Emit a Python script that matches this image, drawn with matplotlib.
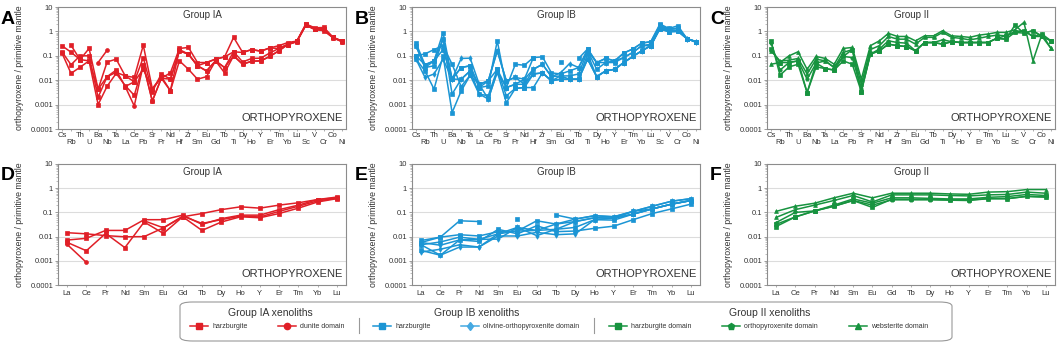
import numpy as np
import matplotlib.pyplot as plt
from matplotlib.lines import Line2D
from matplotlib.patches import FancyBboxPatch
from matplotlib.ticker import FixedLocator, LogLocator, NullFormatter

plt.rcParams['font.family'] = ['Liberation Sans', 'DejaVu Sans']

nan = np.nan

spider = ['Cs', 'Rb', 'Th', 'U', 'Ba', 'Nb', 'Ta', 'La', 'Ce', 'Pb', 'Sr', 'Pr', 'Nd', 'Hf', 'Zr', 'Sm',
          'Eu', 'Gd', 'Tb', 'Ti', 'Dy', 'Ho', 'Y', 'Er', 'Tm', 'Yb', 'Lu', 'Sc', 'V', 'Cr', 'Co', 'Ni']
ree = ['La', 'Ce', 'Pr', 'Nd', 'Sm', 'Eu', 'Gd', 'Tb', 'Dy', 'Ho', 'Y', 'Er', 'Tm', 'Yb', 'Lu']

# ---- Group IA, trace elements (panel A)
a_harz1 = [0.26, 0.14, 0.07, 0.2, 0.0043, 0.056, 0.073, 0.015, 0.013, 0.27, 0.0045, 0.012, 0.02, 0.2, 0.22, 0.053,
           0.053, 0.073, 0.09, 0.57, 0.137, 0.18, 0.155, 0.21, 0.26, 0.35, 0.4, 2.0, 1.4, 1.45, 0.57, 0.4]
a_harz2 = [0.146, 0.043, 0.1, 0.1, 0.002, 0.014, 0.026, 0.0055, 0.0086, 0.085, 0.0034, 0.018, 0.011, 0.16, 0.117, 0.039,
           0.024, 0.062, 0.033, 0.146, 0.056, 0.078, 0.08, 0.13, 0.2, 0.29, 0.4, 1.9, 1.2, 1.2, 0.57, 0.4]
a_harz3 = [0.13, 0.019, 0.034, 0.062, 0.001, 0.0057, 0.019, 0.006, 0.0024, 0.043, 0.0014, 0.012, 0.0037, 0.062, 0.028, 0.011,
           0.014, 0.062, 0.02, 0.1, 0.045, 0.06, 0.062, 0.094, 0.16, 0.29, 0.38, 1.8, 1.2, 1.06, 0.55, 0.38]
a_harz4 = [nan, 0.27, 0.07, 0.062, 0.0043, 0.014, 0.021, 0.015, 0.0086, 0.028, 0.0045, 0.014, 0.0037, 0.18, 0.117, 0.039,
           0.053, 0.073, 0.09, 0.146, 0.137, 0.18, 0.155, 0.21, 0.2, 0.3, 0.4, 1.95, 1.3, 1.3, 0.57, 0.4]
a_dun = [nan, nan, nan, nan, 0.053, 0.17, nan, 0.0055, 0.00088, 0.043, 0.0014, 0.012, 0.011, 0.16, 0.117, 0.039,
         0.024, 0.062, 0.033, 0.1, 0.045, 0.06, 0.062, 0.094, 0.16, 0.29, 0.38, 1.8, 1.2, 1.1, 0.55, 0.38]

# ---- Group IB, trace elements (panel B)
b_harz1 = [0.33, 0.043, 0.062, 0.9, 0.011, 0.033, 0.039, 0.005, 0.0058, 0.41, 0.005, 0.0068, 0.011, 0.085, 0.09, 0.02,
           0.018, 0.024, 0.033, 0.19, 0.053, 0.078, 0.062, 0.13, 0.19, 0.33, 0.38, 2.0, 1.33, 1.7, 0.5, 0.38]
b_harz2 = [0.26, 0.033, 0.039, 0.5, 0.0027, 0.011, 0.024, 0.0068, 0.0094, 0.16, 0.0094, 0.013, 0.0068, 0.028, 0.045, 0.014,
           0.015, 0.015, 0.018, 0.16, 0.028, 0.053, 0.053, 0.085, 0.137, 0.26, 0.26, 1.25, 0.97, 1.0, 0.5, 0.38]
b_harz3 = [0.1, 0.12, 0.18, 0.26, 0.045, 0.0055, 0.016, 0.0027, 0.0023, 0.028, 0.0023, 0.0046, 0.005, 0.018, 0.02, 0.0094,
           0.011, 0.011, 0.011, 0.12, 0.014, 0.024, 0.028, 0.053, 0.094, 0.16, 0.26, 1.5, 1.1, 1.1, 0.5, 0.38]
b_harz4 = [0.073, 0.024, 0.0043, 0.1, 0.00047, 0.0036, 0.016, 0.0068, 0.0017, 0.022, 0.0012, 0.0046, 0.005, 0.005, 0.02, 0.0094,
           0.011, 0.011, 0.011, 0.073, 0.014, 0.024, 0.028, 0.053, 0.094, 0.16, 0.26, 1.3, 0.97, 1.0, 0.5, 0.36]
b_harz5 = [0.1, 0.043, 0.062, 0.18, 0.011, 0.033, 0.039, 0.005, 0.0094, 0.028, 0.005, 0.045, 0.041, 0.085, nan, nan,
           0.056, nan, 0.078, 0.19, 0.053, 0.078, 0.062, 0.13, 0.19, 0.33, 0.38, 1.8, 1.2, 1.4, 0.5, 0.38]
b_olopx1 = [0.26, 0.033, 0.062, 0.5, 0.011, 0.078, 0.08, 0.0068, 0.0094, 0.16, 0.0094, 0.013, 0.011, 0.028, 0.045, 0.014,
            0.02, 0.048, 0.033, 0.16, 0.053, 0.053, 0.062, 0.085, 0.137, 0.26, 0.3, 1.6, 1.2, 1.3, 0.5, 0.38]
b_olopx2 = [0.073, 0.013, 0.018, 0.073, 0.011, 0.011, 0.024, 0.0027, 0.0017, 0.022, 0.005, 0.0068, 0.0068, 0.018, 0.02, 0.0094,
            0.015, 0.011, 0.011, 0.073, 0.014, 0.024, 0.028, 0.053, 0.094, 0.16, 0.26, 1.4, 1.0, 1.1, 0.5, 0.36]

# ---- Group II, trace elements (panel C)
c_web1 = [0.045, 0.053, 0.1, 0.146, 0.028, 0.094, 0.078, 0.045, 0.2, 0.22, 0.011, 0.26, 0.41, 0.83, 0.62, 0.62,
          0.41, 0.66, 0.66, 1.07, 0.66, 0.62, 0.57, 0.7, 0.78, 0.91, 0.91, 1.17, 2.34, 0.062, 0.78, 0.2]
c_web2 = [0.16, 0.062, 0.066, 0.078, 0.018, 0.073, 0.062, 0.033, 0.137, 0.18, 0.0068, 0.18, 0.26, 0.62, 0.48, 0.48,
          0.3, 0.57, 0.57, 0.91, 0.57, 0.52, 0.45, 0.52, 0.62, 0.7, 0.66, 1.0, 1.07, 0.62, 0.62, 0.2]
c_opx = [0.35, 0.026, 0.053, 0.062, 0.011, 0.05, 0.062, 0.033, 0.094, 0.085, 0.0043, 0.117, 0.19, 0.41, 0.35, 0.33,
         0.16, 0.35, 0.35, 0.45, 0.38, 0.35, 0.35, 0.35, 0.35, 0.52, 0.48, 0.91, 0.85, 1.07, 0.62, 0.41]
c_harz1 = [0.41, 0.016, 0.035, 0.045, 0.0031, 0.035, 0.03, 0.026, 0.062, 0.045, 0.0034, 0.117, 0.16, 0.3, 0.26, 0.24,
           0.16, 0.35, 0.35, 0.3, 0.38, 0.35, 0.35, 0.35, 0.35, 0.52, 0.48, 1.8, 0.85, 1.07, 0.62, 0.41]
c_harz2 = [0.19, 0.053, 0.053, 0.062, 0.0031, 0.05, 0.03, 0.026, 0.094, 0.18, 0.0034, 0.117, 0.16, 0.3, 0.26, 0.24,
           0.16, 0.35, 0.35, 0.3, 0.38, 0.35, 0.35, 0.35, 0.35, 0.52, 0.66, 0.91, 1.07, 0.62, 0.78, 0.41]

# ---- REE (panels D, E, F)
d_harz1 = [0.0145, 0.013, 0.011, 0.0098, 0.010, 0.023, 0.066, 0.09, 0.13, 0.17, 0.15, 0.2, 0.25, 0.34, 0.43]
d_harz2 = [0.0072, 0.0085, 0.018, 0.018, 0.05, 0.05, 0.077, 0.032, 0.055, 0.077, 0.077, 0.13, 0.2, 0.34, 0.4]
d_harz3 = [0.0058, 0.0026, 0.0135, 0.0035, 0.04, 0.0135, 0.066, 0.018, 0.04, 0.066, 0.06, 0.09, 0.15, 0.27, 0.37]
d_dun = [0.0048, 0.00086, nan, nan, 0.045, 0.023, 0.07, 0.035, 0.05, 0.07, 0.065, 0.11, 0.18, 0.3, 0.38]

e_harz1 = [0.0069, 0.0095, 0.045, 0.042, nan, 0.053, nan, 0.078, 0.053, 0.073, 0.066, 0.11, 0.18, 0.29, 0.37]
e_harz2 = [0.0057, 0.0095, 0.012, 0.0106, 0.016, 0.017, 0.045, 0.033, 0.042, 0.06, 0.058, 0.085, 0.14, 0.22, 0.31]
e_harz3 = [0.0046, 0.006, 0.0095, 0.0077, 0.013, 0.024, 0.018, 0.02, 0.024, 0.05, 0.048, 0.085, 0.14, 0.22, 0.31]
e_harz4 = [0.0027, 0.0017, 0.0073, 0.0063, 0.02, 0.013, 0.028, 0.016, 0.017, 0.022, 0.027, 0.05, 0.09, 0.14, 0.22]
e_olopx1 = [0.0023, 0.003, 0.0046, 0.0037, 0.0106, 0.0106, 0.015, 0.012, 0.013, 0.05, 0.058, 0.085, 0.14, 0.22, 0.31]
e_olopx2 = [0.0057, 0.0044, 0.0073, 0.0077, 0.0079, 0.024, 0.011, 0.02, 0.042, 0.06, 0.058, 0.11, 0.18, 0.29, 0.37]
e_olopx3 = [0.0046, 0.0017, 0.0037, 0.0037, 0.013, 0.017, 0.018, 0.033, 0.053, 0.073, 0.066, 0.11, 0.14, 0.22, 0.31]

f_web1 = [0.11, 0.18, 0.24, 0.4, 0.62, 0.4, 0.62, 0.62, 0.62, 0.58, 0.56, 0.69, 0.72, 0.88, 0.88]
f_web2 = [0.062, 0.13, 0.2, 0.31, 0.5, 0.27, 0.53, 0.53, 0.53, 0.5, 0.48, 0.53, 0.55, 0.69, 0.62]
f_opx = [0.038, 0.1, 0.115, 0.18, 0.31, 0.2, 0.33, 0.33, 0.33, 0.32, 0.31, 0.37, 0.37, 0.46, 0.43]
f_harz1 = [0.032, 0.065, 0.115, 0.18, 0.31, 0.16, 0.35, 0.35, 0.35, 0.33, 0.33, 0.37, 0.37, 0.46, 0.43]
f_harz2 = [0.026, 0.065, 0.115, 0.2, 0.36, 0.24, 0.4, 0.4, 0.38, 0.36, 0.36, 0.42, 0.45, 0.55, 0.5]

red = '#e01f27'
blue = '#1b95d4'
lblue = '#45a9e2'
green = '#17933f'

styles = {
    'ia_harz': dict(color=red, marker='s', label='harzburgite'),
    'ia_dun': dict(color=red, marker='o', label='dunite domain'),
    'ib_harz': dict(color=blue, marker='s', label='harzburgite'),
    'ib_olopx': dict(color=lblue, marker='d', label='olivine-orthopyroxenite domain'),
    'ii_harz': dict(color=green, marker='s', label='harzburgite domain'),
    'ii_opx': dict(color=green, marker='p', label='orthopyroxenite domain'),
    'ii_web': dict(color=green, marker='^', label='websterite domain'),
}

panels = [
    ('A', 'Group IA', spider, [(a_harz1, 'ia_harz'), (a_harz2, 'ia_harz'), (a_harz3, 'ia_harz'),
                               (a_harz4, 'ia_harz'), (a_dun, 'ia_dun')]),
    ('B', 'Group IB', spider, [(b_harz1, 'ib_harz'), (b_harz2, 'ib_harz'), (b_harz3, 'ib_harz'), (b_harz4, 'ib_harz'),
                               (b_harz5, 'ib_harz'), (b_olopx1, 'ib_olopx'), (b_olopx2, 'ib_olopx')]),
    ('C', 'Group II', spider, [(c_web1, 'ii_web'), (c_web2, 'ii_web'), (c_opx, 'ii_opx'),
                               (c_harz1, 'ii_harz'), (c_harz2, 'ii_harz')]),
    ('D', 'Group IA', ree, [(d_harz1, 'ia_harz'), (d_harz2, 'ia_harz'), (d_harz3, 'ia_harz'), (d_dun, 'ia_dun')]),
    ('E', 'Group IB', ree, [(e_harz1, 'ib_harz'), (e_harz2, 'ib_harz'), (e_harz3, 'ib_harz'), (e_harz4, 'ib_harz'),
                            (e_olopx1, 'ib_olopx'), (e_olopx2, 'ib_olopx'), (e_olopx3, 'ib_olopx')]),
    ('F', 'Group II', ree, [(f_web1, 'ii_web'), (f_web2, 'ii_web'), (f_opx, 'ii_opx'),
                            (f_harz1, 'ii_harz'), (f_harz2, 'ii_harz')]),
]

W, H = 1059, 343
fig = plt.figure(figsize=(W / 100, H / 100), dpi=100)

lefts = [58, 412, 767]
tops = [7, 164]
bottoms = [129, 285]
aw = 288

frame_col = '#8c8c8c'
text_col = '#333333'

for i, (letter, group, elems, series) in enumerate(panels):
    row, col = divmod(i, 3)
    x0 = lefts[col]
    ax = fig.add_axes([x0 / W, 1 - bottoms[row] / H, aw / W, (bottoms[row] - tops[row]) / H])
    n = len(elems)
    xs = np.arange(n)
    for vals, kind in series:
        st = styles[kind]
        lc = blue if kind == 'ib_olopx' else st['color']
        ax.plot(xs, vals, color=lc, marker=st['marker'], ms=2.8, lw=1.1,
                markeredgewidth=0.5, zorder=3)
    ax.set_yscale('log')
    ax.set_ylim(1e-4, 10)
    pad = 0.44 if n > 20 else 0.47
    ax.set_xlim(-pad, n - 1 + pad)
    ax.yaxis.set_major_locator(FixedLocator([1e-4, 1e-3, 1e-2, 1e-1, 1, 10]))
    ax.set_yticklabels(['0.0001', '0.001', '0.01', '0.1', '1', '10'])
    ax.yaxis.set_minor_locator(LogLocator(base=10, subs=np.arange(2, 10)))
    ax.yaxis.set_minor_formatter(NullFormatter())
    ax.tick_params(axis='y', which='major', labelsize=5.5, length=2, width=0.6, color=frame_col,
                   labelcolor=text_col, pad=1.5)
    ax.tick_params(axis='y', which='minor', length=1.2, width=0.4, color=frame_col)
    for yv in [1e-3, 1e-2, 1e-1, 1]:
        ax.axhline(yv, color='#dcdcdc', lw=0.8, zorder=1)
    if n > 20:
        ax.set_xticks(xs[::2], elems[::2])
        ax.set_xticks(xs[1::2], elems[1::2], minor=True)
        ax.tick_params(axis='x', which='major', labelsize=5.5, length=1.5, width=0.5, color=frame_col,
                       labelcolor=text_col, pad=1)
        ax.tick_params(axis='x', which='minor', labelsize=5.5, length=1.5, width=0.5, color=frame_col,
                       labelcolor=text_col, pad=6)
    else:
        ax.set_xticks(xs, elems)
        ax.tick_params(axis='x', labelsize=5.5, length=1.5, width=0.5, color=frame_col,
                       labelcolor=text_col, pad=2)
    for s in ax.spines.values():
        s.set_color(frame_col)
        s.set_linewidth(0.8)
    ax.set_ylabel('orthopyroxene / primitive mantle', fontsize=6.3, color=text_col)
    ax.yaxis.set_label_coords(-0.117, 0.5)
    ax.text(0.5, 0.935, group, transform=ax.transAxes, ha='center', va='center', fontsize=7, color=text_col)
    ax.text(0.99, 0.09, 'ORTHOPYROXENE', transform=ax.transAxes, ha='right', va='center', fontsize=8,
            color=text_col)
    fig.text((x0 - 57) / W, 1 - (tops[row] + 12) / H, letter, fontsize=14, fontweight='bold',
             ha='left', va='center')

# legend box
box = FancyBboxPatch((180 / W, 2 / H), 772 / W, 39 / H, boxstyle='round,pad=0,rounding_size=0.012',
                     transform=fig.transFigure, facecolor='white', edgecolor='#999999', lw=0.8)
fig.patches.append(box)

for title, xc in [('Group IA xenoliths', 270), ('Group IB xenoliths', 477), ('Group II xenoliths', 770)]:
    fig.text(xc / W, 1 - 313 / H, title, ha='center', va='center', fontsize=7.5, color=text_col)
for xs_ in [359, 594]:
    fig.add_artist(Line2D([xs_ / W, xs_ / W], [1 - 333 / H, 1 - 318 / H], color='#999999', lw=0.8,
                          transform=fig.transFigure))

entries = [('ia_harz', 190), ('ia_dun', 278), ('ib_harz', 373), ('ib_olopx', 461),
           ('ii_harz', 609), ('ii_opx', 722), ('ii_web', 849)]
for kind, xl in entries:
    st = styles[kind]
    h = Line2D([], [], color=st['color'], marker=st['marker'], ms=4.5, lw=1.1)
    fig.legend(handles=[h], labels=[st['label']], loc='center left', bbox_to_anchor=(xl / W, 1 - 327 / H),
               frameon=False, fontsize=5, handlelength=2.6, handletextpad=0.6, borderpad=0,
               borderaxespad=0, labelcolor=text_col)

fig.savefig('out.png', dpi=100)
